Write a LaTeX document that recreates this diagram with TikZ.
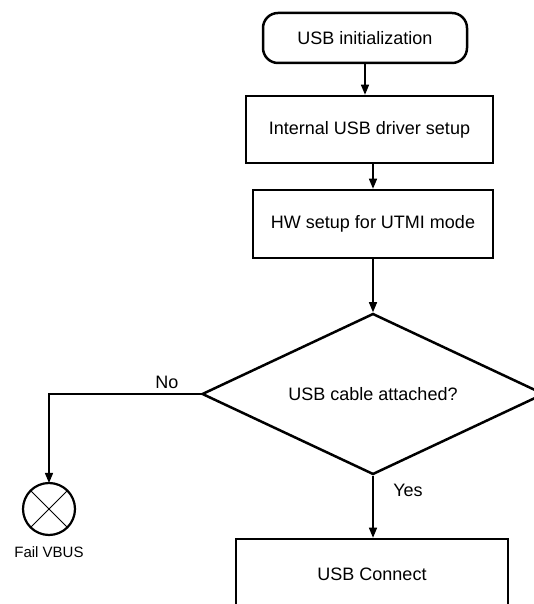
\documentclass[tikz,border=0pt]{standalone}
\usepackage{fontspec}
\setmainfont{Liberation Sans}
\usetikzlibrary{arrows.meta,shapes.geometric}
\begin{document}
\begin{tikzpicture}[x=1pt,y=1pt,
  box/.style={draw, line width=2.5pt, inner sep=0pt, font=\fontsize{18}{21}\selectfont},
  conn/.style={line width=1.3pt, -{Triangle[length=10pt,width=8pt]}},
  lbl/.style={font=\fontsize{18}{21}\selectfont, inner sep=0pt}]
\useasboundingbox (0,0) rectangle (534,604);
\clip (0,0) rectangle (534,604);
\node[box, rounded corners=15pt, minimum width=204pt, minimum height=50pt] (start) at (365,566) {USB initialization};
\node[box, minimum width=247pt, minimum height=67pt] (drv) at (369.5,474.5) {Internal USB driver setup};
\node[box, minimum width=240pt, minimum height=68pt] (hw) at (373,380) {HW setup for UTMI mode};
\node[box, diamond, aspect=2.12, minimum width=342pt, minimum height=161pt] (dec) at (373,210) {USB cable attached?};
\node[box, minimum width=272pt, minimum height=70pt] (conn) at (372,30) {USB Connect};
\node[draw, circle, line width=2.2pt, outer sep=0pt, minimum size=52pt, inner sep=0pt] (fail) at (49,95) {};
\draw[line width=1pt] (fail.north west) -- (fail.south east);
\draw[line width=1pt] (fail.north east) -- (fail.south west);
\node[font=\fontsize{15}{18}\selectfont, inner sep=0pt] (failt) at (49,52) {Fail VBUS};
\node[lbl] (no) at (167,222) {No};
\node[lbl] (yes) at (408,114) {Yes};
\draw[conn] (start.south) -- (start.south |- drv.north);
\draw[conn] (drv.south -| hw.north) -- (hw.north);
\draw[conn] (hw.south) -- (dec.north);
\draw[conn] (dec.south) -- (dec.south |- conn.north);
\draw[conn] (dec.west) -| (fail.north);
\end{tikzpicture}
\end{document}
